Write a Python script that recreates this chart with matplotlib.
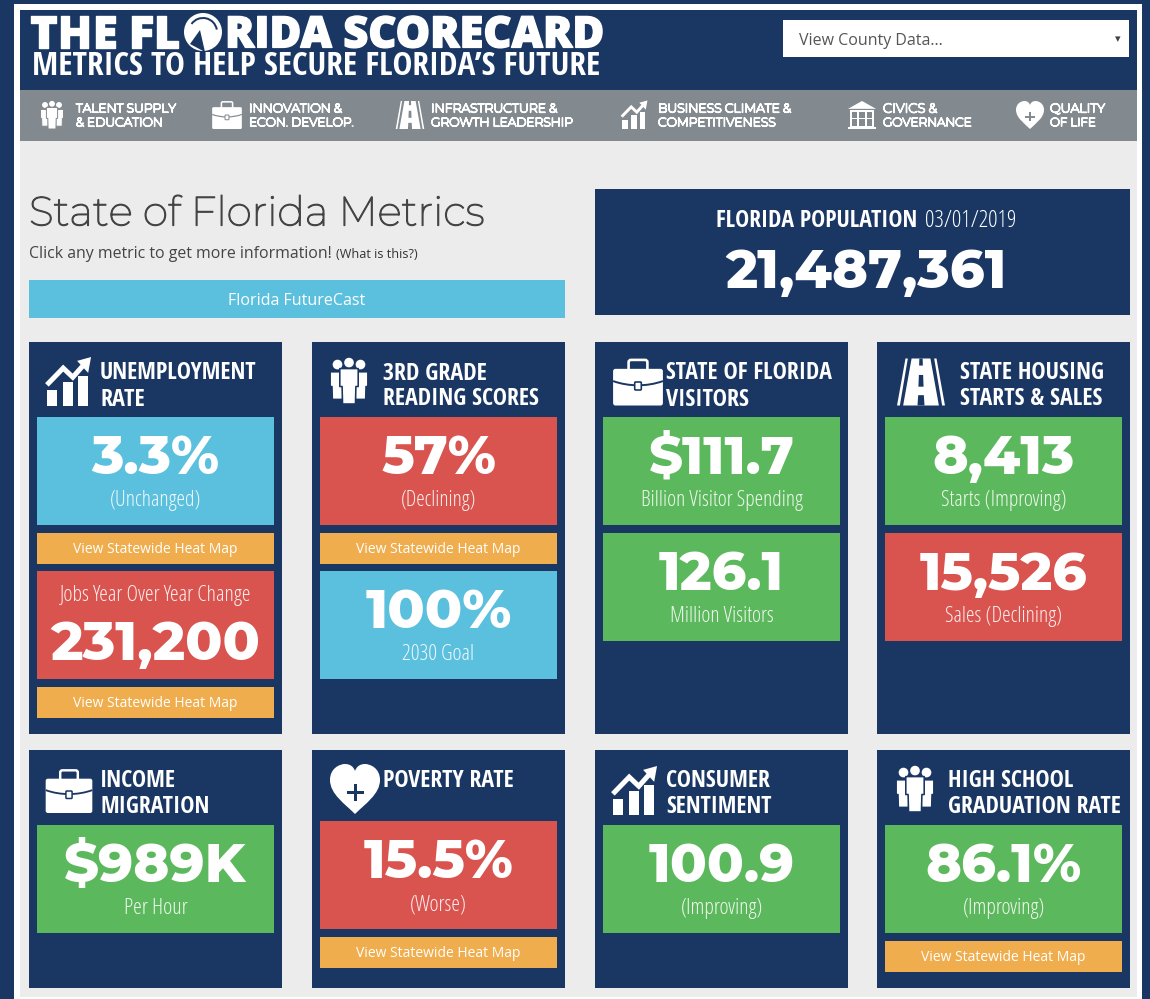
import matplotlib
matplotlib.use("Agg")
import matplotlib.pyplot as plt
from matplotlib.patches import Rectangle, Circle, Polygon, PathPatch, FancyBboxPatch, Wedge
from matplotlib.path import Path
import matplotlib.patheffects as pe

NAVY = "#1a3764"
GRAY = "#82898f"
BODY = "#ececec"
BLUE = "#5bc0de"
RED = "#d9534f"
GREEN = "#5cb85c"
ORANGE = "#f0ad4e"

# font styles: family, weight, stretch
COND_BOLD = ("Open Sans Condensed", 700, "condensed")
COND_LIGHT = ("Open Sans", 300, "condensed")
REGULAR = ("Open Sans", 400, "normal")
HEAVY = ("Montserrat Alternates", 800, "normal")
THIN = ("Montserrat", 400, "normal")
BANNER = ("Open Sans", 800, "normal")

nav_line1 = ["TALENT SUPPLY", "INNOVATION &", "INFRASTRUCTURE &", "BUSINESS CLIMATE &", "CIVICS &", "QUALITY"]
nav_line2 = ["& EDUCATION", "ECON. DEVELOP.", "GROWTH LEADERSHIP", "COMPETITIVENESS", "GOVERNANCE", "OF LIFE"]
nav_icons = ["people", "case", "road", "chart", "civic", "heart"]

card_titles = [
    ["UNEMPLOYMENT", "RATE"], ["3RD GRADE", "READING SCORES"],
    ["STATE OF FLORIDA", "VISITORS"], ["STATE HOUSING", "STARTS & SALES"],
    ["INCOME", "MIGRATION"], ["POVERTY RATE"],
    ["CONSUMER", "SENTIMENT"], ["HIGH SCHOOL", "GRADUATION RATE"],
]
card_icons = ["chart", "people", "case", "road", "case", "heart", "chart", "people"]

# one tuple per tile: value, caption, colour
unemployment = [("3.3%", "(Unchanged)", BLUE), ("231,200", "Jobs Year Over Year Change", RED)]
reading = [("57%", "(Declining)", RED), ("100%", "2030 Goal", BLUE)]
visitors = [("$111.7", "Billion Visitor Spending", GREEN), ("126.1", "Million Visitors", GREEN)]
housing = [("8,413", "Starts (Improving)", GREEN), ("15,526", "Sales (Declining)", RED)]
income = [("$989K", "Per Hour", GREEN)]
poverty = [("15.5%", "(Worse)", RED)]
sentiment = [("100.9", "(Improving)", GREEN)]
graduation = [("86.1%", "(Improving)", GREEN)]

W, H = 1150, 999
fig = plt.figure(figsize=(W / 100, H / 100), dpi=100, facecolor=NAVY)
ax = fig.add_axes([0, 0, 1, 1])
ax.set_xlim(0, W)
ax.set_ylim(H, 0)
ax.axis("off")


def box(x0, y0, x1, y1, color, z=1):
    ax.add_patch(Rectangle((x0, y0), x1 - x0, y1 - y0, fc=color, ec="none", zorder=z))


def txt(x, y, s, px, color="white", font=REGULAR, ha="center", fit=None, z=5, **kw):
    # y is the middle of the capitals, px the font size in screen pixels,
    # fit rescales the font until the text is that many pixels wide
    t = ax.text(x, y, s, fontsize=px * 0.72, color=color, family=font[0], weight=font[1],
                stretch=font[2], ha=ha, va="baseline", zorder=z, **kw)
    if fit:
        w = t.get_window_extent(fig.canvas.get_renderer()).width
        px = px * fit / w
        t.set_fontsize(px * 0.72)
    t.set_y(y + 0.355 * px)
    return t


def icon(kind, cx, cy, s, bg, fg="white"):
    # s is the icon height in pixels, everything scaled around the centre
    def P(pts, c=fg, z=4):
        ax.add_patch(Polygon([(cx + a * s, cy + b * s) for a, b in pts], closed=True,
                             fc=c, ec="none", zorder=z))

    if kind == "chart":
        for a, top in [(-0.33, 0.17), (0, 0.0), (0.31, -0.125)]:
            P([(a - 0.1, top), (a + 0.1, top), (a + 0.1, 0.5), (a - 0.1, 0.5)])
        pts = [(-0.44, 0.06), (-0.1, -0.29), (0.1, -0.1), (0.33, -0.36)]
        ax.plot([cx + a * s for a, b in pts], [cy + b * s for a, b in pts], color=fg,
                lw=s * 0.075, solid_capstyle="butt", solid_joinstyle="miter", zorder=4)
        P([(0.48, -0.52), (0.42, -0.19), (0.19, -0.44)])
    elif kind == "people":
        for a, sc, w in [(-0.25, 0.85, 0.16), (0.25, 0.85, 0.16), (0, 1.0, 0.2)]:
            ax.add_patch(Circle((cx + a * s, cy - (0.12 + 0.28 * sc) * s), 0.105 * s, fc=fg,
                                ec="none", zorder=4.5))
            top = -0.27 if sc == 1.0 else -0.2
            foot = 0.5 if sc == 1.0 else 0.4
            pts = [(a - w, top), (a + w, top), (a + w, 0.12), (a + w * 0.75, 0.12), (a + w * 0.7, foot),
                   (a - w * 0.7, foot), (a - w * 0.75, 0.12), (a - w, 0.12)]
            ax.add_patch(Polygon([(cx + p * s, cy + q * s) for p, q in pts], closed=True, fc=fg, ec=bg,
                                 lw=s * 0.025, zorder=4.5 if sc == 1.0 else 4, joinstyle="round"))
    elif kind == "case":
        ax.add_patch(FancyBboxPatch((cx - 0.2 * s, cy - 0.47 * s), 0.4 * s, 0.3 * s,
                                    boxstyle=f"round,pad=0,rounding_size={0.05 * s}",
                                    fc="none", ec=fg, lw=s * 0.04, zorder=4))
        ax.add_patch(FancyBboxPatch((cx - 0.53 * s, cy - 0.28 * s), 1.06 * s, 0.78 * s,
                                    boxstyle=f"round,pad=0,rounding_size={0.05 * s}",
                                    fc=fg, ec="none", zorder=4))
        seam = Path([(cx - 0.53 * s, cy - 0.02 * s), (cx - 0.2 * s, cy + 0.1 * s),
                     (cx + 0.2 * s, cy + 0.1 * s), (cx + 0.53 * s, cy - 0.02 * s)],
                    [Path.MOVETO, Path.CURVE4, Path.CURVE4, Path.CURVE4])
        ax.add_patch(PathPatch(seam, fc="none", ec=bg, lw=s * 0.03, zorder=4.1))
        ax.add_patch(FancyBboxPatch((cx - 0.07 * s, cy + 0.0 * s), 0.14 * s, 0.17 * s,
                                    boxstyle=f"round,pad=0,rounding_size={0.02 * s}",
                                    fc=fg, ec=bg, lw=s * 0.025, zorder=4.2))
    elif kind == "road":
        P([(-0.51, 0.5), (-0.33, -0.5), (-0.28, -0.5), (-0.45, 0.5)])
        P([(0.51, 0.5), (0.33, -0.5), (0.28, -0.5), (0.45, 0.5)])
        P([(-0.38, 0.5), (-0.2, -0.5), (0.2, -0.5), (0.38, 0.5)])
        P([(-0.045, -0.15), (0.045, -0.15), (0.055, 0.1), (-0.055, 0.1)], c=bg, z=4.1)
        P([(-0.06, 0.28), (0.06, 0.28), (0.075, 0.5), (-0.075, 0.5)], c=bg, z=4.1)
        P([(-0.035, -0.5), (0.035, -0.5), (0.04, -0.35), (-0.04, -0.35)], c=bg, z=4.1)
    elif kind == "civic":
        P([(-0.5, -0.22), (0, -0.5), (0.5, -0.22)])
        P([(-0.44, -0.17), (0.44, -0.17), (0.44, 0.42), (-0.44, 0.42)])
        P([(-0.5, 0.42), (0.5, 0.42), (0.5, 0.5), (-0.5, 0.5)])
        box(cx - 0.36 * s, cy - 0.1 * s, cx + 0.36 * s, cy + 0.38 * s, bg, 4.1)
        for a in (-0.14, 0.14):
            box(cx + (a - 0.03) * s, cy - 0.1 * s, cx + (a + 0.03) * s, cy + 0.38 * s, "white", 4.2)
        box(cx - 0.36 * s, cy + 0.1 * s, cx + 0.36 * s, cy + 0.16 * s, "white", 4.2)
    elif kind == "heart":
        verts = [(0, 0.5), (-0.2, 0.3), (-0.5, 0.1), (-0.5, -0.18), (-0.5, -0.42), (-0.3, -0.5), (-0.2, -0.5),
                 (-0.1, -0.5), (-0.03, -0.45), (0, -0.36), (0.03, -0.45), (0.1, -0.5), (0.2, -0.5),
                 (0.3, -0.5), (0.5, -0.42), (0.5, -0.18), (0.5, 0.1), (0.2, 0.3), (0, 0.5)]
        codes = [Path.MOVETO] + [Path.CURVE4] * 18
        ax.add_patch(PathPatch(Path([(cx + a * s, cy + b * s) for a, b in verts], codes),
                               fc=fg, ec="none", zorder=4))
        box(cx - 0.17 * s, cy + 0.03 * s, cx + 0.17 * s, cy + 0.09 * s, bg, 4.1)
        box(cx - 0.03 * s, cy - 0.11 * s, cx + 0.03 * s, cy + 0.23 * s, bg, 4.1)


# page frame
box(14, 4, 1142, 999, "white", 0.5)
box(20, 10, 1137, 997, BODY, 0.6)
box(20, 10, 1137, 90, NAVY)
box(20, 90, 1137, 141, GRAY)

# header banner
stroke = [pe.withStroke(linewidth=1.0, foreground="white")]
txt(30, 32, "THE FL", 44, font=BANNER, ha="left", fit=150, path_effects=stroke)
ax.add_patch(Circle((203, 32), 19, fc="white", ec="none", zorder=4))
ax.add_patch(Wedge((203, 32), 15, 215, 350, width=2, fc=NAVY, ec="none", zorder=4.1))
ax.add_patch(Polygon([(190, 44), (200, 30), (205, 52)], closed=True, fc=NAVY, ec="none", zorder=4.1))
txt(225, 32, "RIDA SCORECARD", 44, font=BANNER, ha="left", fit=379, path_effects=stroke)
txt(32, 63, "METRICS TO HELP SECURE FLORIDA\u2019S FUTURE", 26, font=COND_BOLD, ha="left", fit=568)

box(783, 20, 1129, 57, "white")
txt(799, 39, "View County Data...", 16, color="#555555", ha="left")
ax.text(1118, 39, "\u25be", fontsize=8, color="#444444", family="DejaVu Sans", ha="center", va="center", zorder=5)

# navigation strip
nav_icon_x = [52, 227, 410, 634, 862, 1030]
nav_text_x = [76, 249, 431, 658, 883, 1050]
nav_text_w = [100, 93, 126, 133, 54, 55]
nav_text_w2 = [87, 105, 142, 118, 89, 46]
thick = [pe.withStroke(linewidth=1.0, foreground="white")]
for i, kind in enumerate(nav_icons):
    icon(kind, nav_icon_x[i], 115, 28, GRAY)
    txt(nav_text_x[i], 108, nav_line1[i], 13, font=THIN, ha="left", fit=nav_text_w[i], path_effects=thick)
    txt(nav_text_x[i], 122, nav_line2[i], 13, font=THIN, ha="left", fit=nav_text_w2[i], path_effects=thick)

# intro block
txt(29, 211, "State of Florida Metrics", 40, color="#444444", font=THIN,
    ha="left", fit=456, path_effects=[pe.withStroke(linewidth=0.9, foreground="#444444")])
txt(29, 252.5, "Click any metric to get more information!", 16, color="#444444", ha="left", fit=303)
txt(336, 254, "(What is this?)", 12, color="#333333", ha="left", fit=81)
box(29, 280, 565, 318, BLUE)
txt(297, 299, "Florida FutureCast", 16)

box(595, 189, 1130, 315, NAVY)
txt(716, 219, "FLORIDA POPULATION", 24, font=COND_BOLD, ha="left", fit=202)
txt(925, 219, "03/01/2019", 23, font=COND_LIGHT, ha="left", fit=92)
txt(866, 269, "21,487,361", 58, font=HEAVY, fit=281)

# metric cards
card_x = [29, 312, 595, 877]
row_y = [(342, 734), (750, 988)]
tiles = [unemployment, reading, visitors, housing, income, poverty, sentiment, graduation]
# heat map button under tile n of each card
buttons = [[True, True], [True, False], [False, False], [False, False],
           [False], [True], [False], [True]]
value_w = {"3.3%": 128, "231,200": 210, "57%": 115, "100%": 146, "$111.7": 146, "126.1": 125,
           "8,413": 142, "15,526": 168, "$989K": 182, "15.5%": 150, "100.9": 146, "86.1%": 156}
caption_w = {"(Unchanged)": 92, "Jobs Year Over Year Change": 192, "(Declining)": 76, "2030 Goal": 72,
             "Billion Visitor Spending": 163, "Million Visitors": 104, "Starts (Improving)": 126,
             "Sales (Declining)": 117, "Per Hour": 64, "(Worse)": 57, "(Improving)": 83}
title_w = {"UNEMPLOYMENT": 157, "RATE": 45, "3RD GRADE": 104, "READING SCORES": 156,
           "STATE OF FLORIDA": 166, "VISITORS": 83, "STATE HOUSING": 144, "STARTS & SALES": 142,
           "INCOME": 76, "MIGRATION": 109, "POVERTY RATE": 131, "CONSUMER": 104,
           "SENTIMENT": 106, "HIGH SCHOOL": 125, "GRADUATION RATE": 173}
title_x = [100, 383, 666, 960, 100, 383, 666, 948]
icon_xy = [(68, 382), (349, 381), (638, 382), (921, 382), (69, 791), (355, 789), (634, 791), (915, 789)]
icon_s = [48, 46, 47, 47, 44, 50, 48, 46]
tile_start = [417, 417, 417, 417, 825, 821, 825, 825]

for i, x in enumerate(card_x * 2):
    top, bottom = row_y[i // 4]
    box(x, top, x + 253, bottom, NAVY)
    icon(card_icons[i], icon_xy[i][0], icon_xy[i][1], icon_s[i], NAVY)
    for j, line in enumerate(card_titles[i]):
        txt(title_x[i], top + 29 + j * 26, line, 24, font=COND_BOLD, ha="left", fit=title_w[line])
    y = tile_start[i]
    for (value, caption, color), has_button in zip(tiles[i], buttons[i]):
        cx = x + 126.5
        box(x + 8, y, x + 245, y + 108, color)
        if caption == "Jobs Year Over Year Change":
            txt(cx, y + 22, caption, 21, font=COND_LIGHT, alpha=0.9, fit=caption_w[caption])
            txt(cx, y + 70, value, 58, font=HEAVY, fit=value_w[value])
        else:
            txt(cx, y + 38, value, 58, font=HEAVY, fit=value_w[value])
            txt(cx, y + 81.5, caption, 21, font=COND_LIGHT, alpha=0.9, fit=caption_w[caption])
        y += 116
        if has_button:
            box(x + 8, y, x + 245, y + 31, ORANGE)
            txt(cx, y + 15.5, "View Statewide Heat Map", 13.5, fit=165)
            y += 38

fig.savefig("out.png", dpi=100, facecolor=NAVY)
